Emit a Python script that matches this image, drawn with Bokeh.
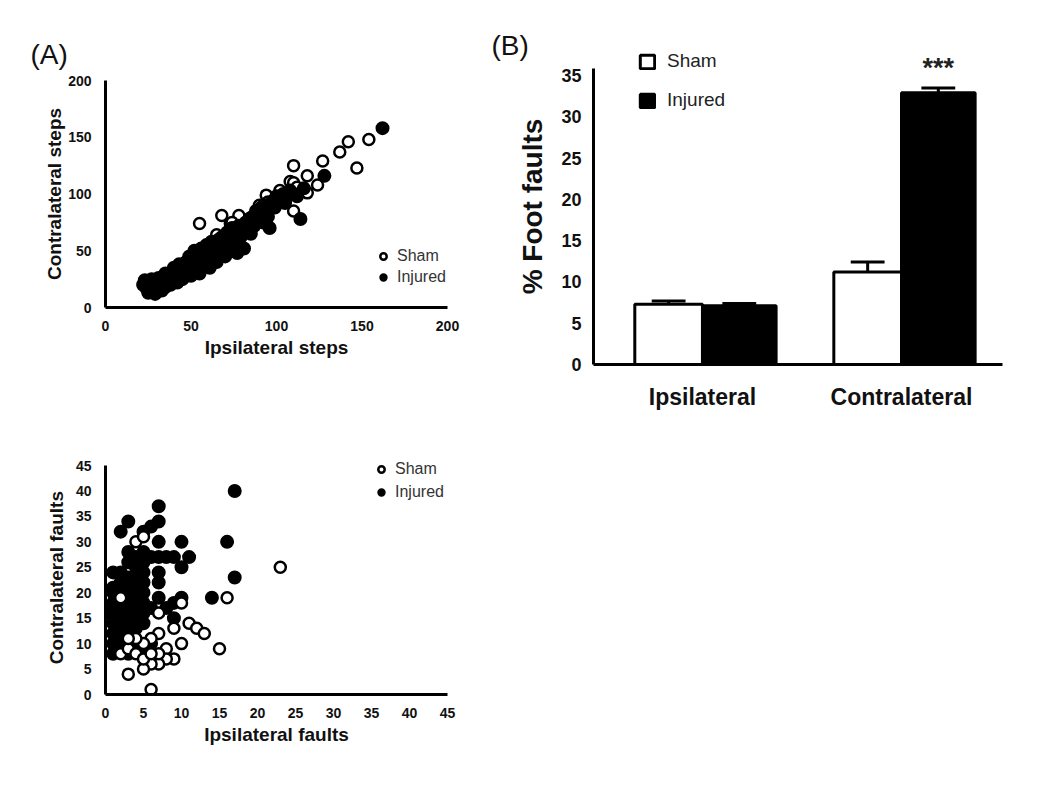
from bokeh.plotting import figure
from bokeh.layouts import row, column
from bokeh.models import Range1d, FixedTicker, Legend, LegendItem, Label
from bokeh.embed import file_html
from bokeh.resources import INLINE

FONT = "Liberation Sans"

# ---------------- data ----------------
# (A) top: steps
sham_steps_x = [55, 68, 78, 84, 73, 65, 94, 95, 98, 110, 108, 110, 118, 110, 112, 118, 124, 127, 137, 142,
                147, 154, 106, 25, 28, 35, 45, 60, 62, 66, 74, 76, 88, 90, 100, 102, 106, 112]
sham_steps_y = [74, 81, 81, 78, 74, 64, 99, 93, 94, 125, 111, 110, 116, 85, 101, 101, 108, 129, 137, 146,
                123, 148, 98, 22, 18, 25, 35, 55, 45, 60, 75, 70, 82, 90, 95, 103, 100, 106]
inj_steps_x = [22, 23, 24, 25, 25, 26, 27, 27, 28, 29, 30, 30, 31, 32, 33, 34, 35, 35, 36, 37, 38, 39, 40, 40,
               41, 42, 43, 44, 45, 46, 47, 48, 49, 50, 50, 51, 52, 53, 54, 55, 55, 56, 57, 58, 59, 60, 60, 61,
               62, 63, 64, 65, 66, 67, 68, 69, 70, 70, 71, 72, 73, 74, 75, 76, 77, 78, 79, 80, 81, 82, 83, 84,
               85, 86, 87, 88, 89, 90, 91, 92, 93, 94, 95, 96, 97, 99, 100, 102, 104, 105, 106, 108, 110, 112,
               114, 116, 128, 162]
inj_steps_y = [20, 24, 17, 22, 13, 18, 25, 15, 20, 12, 22, 17, 26, 20, 15, 24, 30, 18, 22, 27, 20, 32, 25, 35,
               28, 22, 38, 30, 25, 35, 40, 30, 45, 38, 28, 42, 50, 35, 48, 40, 30, 52, 45, 38, 55, 48, 42, 35,
               58, 50, 45, 40, 55, 48, 62, 52, 45, 58, 66, 50, 60, 70, 55, 65, 48, 72, 62, 68, 52, 75, 70, 78,
               65, 80, 72, 85, 78, 82, 88, 75, 85, 90, 80, 70, 92, 88, 98, 95, 100, 92, 98, 103, 100, 98,
               78, 105, 116, 158]

# (A) bottom: faults
sham_faults_x = [23, 16, 10, 4, 5, 2, 7, 11, 12, 13, 15, 10, 9, 7, 6, 8, 9, 8, 7, 6, 5, 3, 6, 2, 3, 4, 5, 7, 6, 5, 4, 3]
sham_faults_y = [25, 19, 18, 30, 31, 19, 16, 14, 13, 12, 9, 10, 13, 12, 11, 9, 7, 7, 6, 6, 5, 4, 1, 8, 9, 8, 7, 8, 8, 10, 11, 11]
inj_faults_x = [17, 7, 3, 2, 7, 6, 5, 7, 10, 16, 3, 5, 6, 7, 8, 9, 11, 10, 17, 1, 7, 7, 14, 7, 10, 9, 8, 9, 5, 0,
                1, 1, 1, 1, 1, 1, 1, 1, 2, 2, 2, 2, 2, 2, 2, 3, 3, 3, 3, 3, 3, 3, 3, 3, 4, 4, 4, 4, 4, 4, 4, 4,
                5, 5, 5, 5, 5, 5, 5, 5, 6, 6, 6, 2, 4, 3, 6]
inj_faults_y = [40, 37, 34, 32, 34, 33, 32, 30, 30, 30, 28, 28, 27, 27, 27, 27, 27, 25, 23, 24, 24, 22, 19, 19, 19, 18, 17, 15, 14, 16,
                8, 10, 12, 14, 16, 18, 20, 21, 9, 11, 13, 15, 17, 20, 22, 10, 12, 14, 16, 18, 20, 22, 23, 26, 10, 15, 17, 19, 21, 23, 25, 27,
                8, 9, 16, 18, 20, 22, 24, 26, 8, 10, 17, 24, 13, 8, 7]

# (B) bars
categories = ["Ipsilateral", "Contralateral"]
sham_mean = [7.3, 11.2]
sham_err = [0.4, 1.2]
injured_mean = [7.1, 32.9]
injured_err = [0.3, 0.6]


def style_axes(p, tick_fs, label_fs):
    for ax in (p.xaxis[0], p.yaxis[0]):
        ax.axis_line_width = 3
        ax.axis_line_color = "black"
        ax.major_tick_line_color = None
        ax.minor_tick_line_color = None
        ax.major_label_text_font = FONT
        ax.major_label_text_font_style = "bold"
        ax.major_label_text_font_size = tick_fs
        ax.major_label_text_color = "#111111"
        ax.axis_label_text_font = FONT
        ax.axis_label_text_font_style = "bold"
        ax.axis_label_text_font_size = label_fs
        ax.axis_label_text_color = "#111111"
        ax.major_label_standoff = 7
        ax.axis_label_standoff = 6
    p.xgrid.visible = False
    p.ygrid.visible = False
    p.outline_line_color = None


def scatter_panel(sx, sy, ix, iy, xr, yr, ybounds, ticks, xlabel, ylabel, w, h, borders, legend_loc, spacing,
                  sham_on_top, title=None):
    p = figure(width=w, height=h, output_backend="svg", toolbar_location=None,
               x_range=Range1d(*xr), y_range=Range1d(*yr),
               min_border_left=borders[0], min_border_top=borders[1],
               min_border_right=borders[2], min_border_bottom=borders[3],
               title=title)
    if sham_on_top:
        r_inj = p.scatter(ix, iy, size=12, fill_color="black", line_color="black", line_width=2)
        r_sham = p.scatter(sx, sy, size=11, fill_color="white", line_color="black", line_width=2.5)
    else:
        r_sham = p.scatter(sx, sy, size=11, fill_color="white", line_color="black", line_width=2.5)
        r_inj = p.scatter(ix, iy, size=12, fill_color="black", line_color="black", line_width=2)
    p.xaxis[0].ticker = FixedTicker(ticks=ticks)
    p.yaxis[0].ticker = FixedTicker(ticks=ticks)
    p.yaxis[0].bounds = ybounds
    p.xaxis[0].axis_label = xlabel
    p.yaxis[0].axis_label = ylabel
    style_axes(p, "14px", "19px")
    p.yaxis[0].major_label_standoff = 8
    p.xaxis[0].axis_label_standoff = 3
    leg = Legend(items=[LegendItem(label="Sham", renderers=[r_sham]),
                        LegendItem(label="Injured", renderers=[r_inj])],
                 location=legend_loc, padding=0, margin=0, spacing=spacing,
                 glyph_width=16, glyph_height=16, label_height=16, label_standoff=6,
                 label_text_font=FONT, label_text_font_size="16px", label_text_color="#333333",
                 border_line_color=None, background_fill_alpha=0)
    p.add_layout(leg, "center")
    return p


pA = scatter_panel(sham_steps_x, sham_steps_y, inj_steps_x, inj_steps_y, (0, 200), (0, 200), (0, 200),
                   [0, 50, 100, 150, 200], "Ipsilateral steps", "Contralateral steps",
                   488, 360, (105, 80, 41, 52), (270, 21), 3, False, title="(A)")
pA.yaxis[0].axis_label_standoff = 0
pA.title.text_font = FONT
pA.title.text_font_size = "28px"
pA.title.text_font_style = "normal"
pA.title.text_color = "#111111"
pA.title.align = "left"
pA.title.offset = -75
pA.title.standoff = 22

pC = scatter_panel(sham_faults_x, sham_faults_y, inj_faults_x, inj_faults_y, (0, 45), (0, 46.97), (0, 45),
                   list(range(0, 50, 5)), "Ipsilateral faults", "Contralateral  faults",
                   488, 394, (103, 95, 38, 60), (268, 193), 5, True)

# ---------------- bar chart ----------------
pos = list(range(len(categories)))
centers = [2 * i for i in pos]
sham_x = [c - 0.34 for c in centers]
inj_x = [c + 0.37 for c in centers]

pB = figure(width=544, height=424, output_backend="svg", toolbar_location=None,
            x_range=Range1d(-1.095, 3.015), y_range=Range1d(0, 38.27),
            min_border_left=105, min_border_top=48, min_border_right=30, min_border_bottom=60,
            title="(B)")
pB.title.text_font = FONT
pB.title.text_font_size = "28px"
pB.title.text_font_style = "normal"
pB.title.text_color = "#111111"
pB.title.align = "left"
pB.title.offset = -102
pB.title.standoff = -24

r_s = pB.vbar(x=sham_x, top=sham_mean, width=0.68, bottom=0, fill_color="white", line_color="black", line_width=3)
r_i = pB.vbar(x=inj_x, top=injured_mean, width=0.74, bottom=0, fill_color="black", line_color="black", line_width=3)

for xs, m, e in ((sham_x, sham_mean, sham_err), (inj_x, injured_mean, injured_err)):
    tops = [a + b for a, b in zip(m, e)]
    pB.segment(x0=xs, y0=m, x1=xs, y1=tops, line_color="black", line_width=3)
    pB.segment(x0=[x - 0.17 for x in xs], y0=tops, x1=[x + 0.17 for x in xs], y1=tops,
               line_color="black", line_width=3)

pB.xaxis[0].ticker = FixedTicker(ticks=centers)
pB.xaxis[0].major_label_overrides = {c: n for c, n in zip(centers, categories)}
pB.yaxis[0].ticker = FixedTicker(ticks=list(range(0, 40, 5)))
pB.yaxis[0].bounds = (0, 35.8)
pB.yaxis[0].axis_label = "% Foot faults"
style_axes(pB, "18px", "28px")
pB.xaxis[0].major_label_text_font_size = "23px"
pB.xaxis[0].major_label_standoff = 13
pB.yaxis[0].axis_label_standoff = 10
pB.yaxis[0].major_label_standoff = 6

pB.add_layout(Label(x=inj_x[1], y=35.9, text="***", text_align="center", text_baseline="middle",
                    text_font=FONT, text_font_size="27px", text_font_style="bold", text_color="#222222"))

legB = Legend(items=[LegendItem(label="Sham", renderers=[r_s]), LegendItem(label="Injured", renderers=[r_i])],
              location=(45, 253), padding=0, margin=0, spacing=17,
              glyph_width=18, glyph_height=17, label_height=17, label_standoff=11,
              label_text_font=FONT, label_text_font_size="19px", label_text_color="#222222",
              border_line_color=None, background_fill_alpha=0)
pB.add_layout(legB, "center")

layout = row(column(pA, pC), pB)
open("out.html", "w").write(file_html(layout, INLINE))
